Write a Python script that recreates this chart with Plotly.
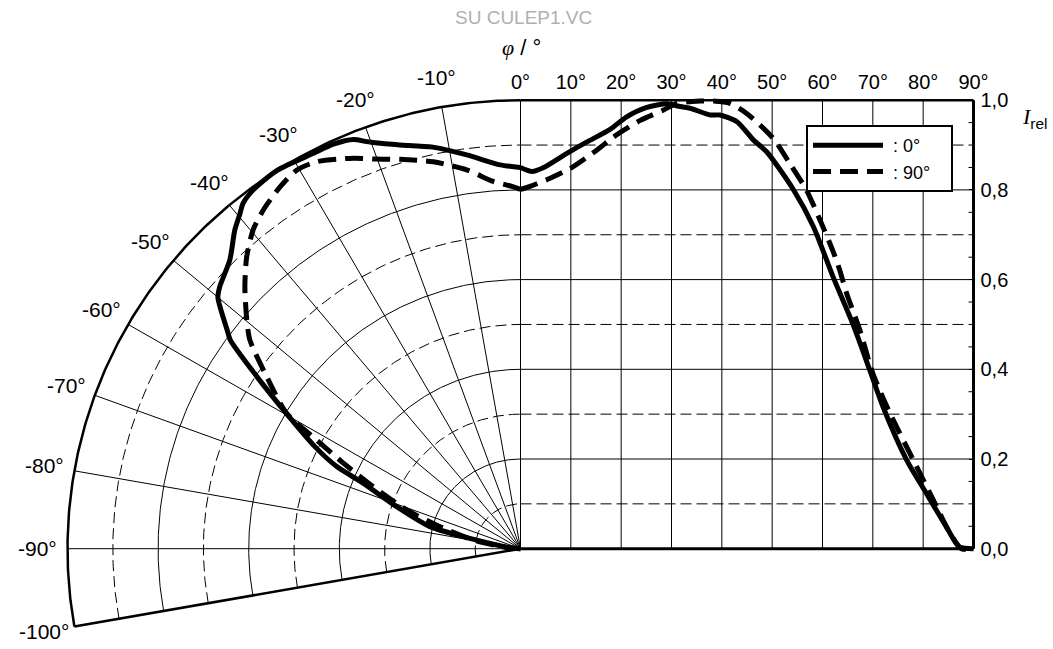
import numpy as np
import plotly.graph_objects as go

# ---- values ----
# polar half: gamma in degrees (negative = left of nadir), relative intensity
solid_left_gamma = [-90, -86, -81, -78, -76.2, -71.1, -67.2, -65.7, -63.4, -59.4, -56.6, -54.0,
                    -53.0, -50.0, -48.7, -44.9, -41.6, -39.6, -38.5, -36.4, -32.5, -27.4, -24.6,
                    -22.0, -20.5, -18.6, -16.5, -12.2, -7.7, -3.0, 0]
solid_left_irel = [0.0, 0.02, 0.053, 0.129, 0.206, 0.289, 0.376, 0.445, 0.507, 0.608, 0.697, 0.792,
                   0.811, 0.872, 0.884, 0.909, 0.950, 0.971, 0.984, 0.994, 1.0, 0.993, 0.992,
                   0.984, 0.969, 0.953, 0.939, 0.916, 0.886, 0.857, 0.850]

dash_left_gamma = [-90, -85, -79.5, -74.6, -71.0, -67.0, -64.0, -61.7, -59.7, -55.6, -52.1, -49.8,
                   -46.2, -42.9, -39.7, -36.9, -33.3, -30.3, -27.5, -23.0, -20.1, -17.0, -12.6,
                   -8.0, -4.2, -1.1, 0]
dash_left_irel = [0.0, 0.03, 0.106, 0.184, 0.266, 0.353, 0.435, 0.511, 0.598, 0.679, 0.757, 0.791,
                  0.843, 0.888, 0.924, 0.945, 0.966, 0.978, 0.973, 0.946, 0.925, 0.908, 0.884,
                  0.853, 0.821, 0.807, 0.801]

# cartesian half: gamma 0..90 degrees
solid_right_gamma = [0, 2.3, 4.6, 9.3, 13.2, 17.8, 21.1, 25.1, 29.1, 31.1, 33.7, 37.7, 39.6, 43.0,
                     46.3, 48.9, 54.2, 58.2, 62.1, 66.1, 69.4, 72.0, 76.7, 80.6, 84.6, 87.2, 90]
solid_right_irel = [0.850, 0.841, 0.850, 0.882, 0.907, 0.935, 0.963, 0.984, 0.992, 0.987, 0.982,
                    0.967, 0.967, 0.952, 0.911, 0.885, 0.801, 0.718, 0.606, 0.499, 0.398, 0.317,
                    0.198, 0.124, 0.049, 0.004, 0.0]

dash_right_gamma = [0, 1.9, 5.9, 9.9, 15.2, 18.5, 23.8, 28.4, 31.1, 35.7, 38.3, 41.6, 45.0, 50.2,
                    53.5, 56.8, 59.5, 62.1, 63.4, 64.8, 67.4, 70.0, 73.4, 78.7, 82.0, 85.3, 87.6, 90]
dash_right_irel = [0.801, 0.808, 0.826, 0.848, 0.889, 0.918, 0.955, 0.978, 0.993, 0.998, 0.998,
                   0.993, 0.970, 0.915, 0.859, 0.800, 0.733, 0.663, 0.622, 0.569, 0.488, 0.391,
                   0.302, 0.183, 0.109, 0.035, 0.0, 0.0]

polar_ticks = [-100, -90, -80, -70, -60, -50, -40, -30, -20, -10]
right_ticks = [0, 10, 20, 30, 40, 50, 60, 70, 80, 90]
irel_ticks = [0.0, 0.2, 0.4, 0.6, 0.8, 1.0]
irel_minor = [0.05, 0.15, 0.25, 0.35, 0.45, 0.55, 0.65, 0.75, 0.85, 0.95]
rings = [0.1, 0.2, 0.3, 0.4, 0.5, 0.6, 0.7, 0.8, 0.9, 1.0]

# ---- page geometry ----
W, H = 1053, 649
X0, Y0 = 520.5, 548.7      # pixel position of the origin
SX, SY = 453.0, 448.5      # pixels per unit of I_rel
GRID_DASH = "11px,5px"
CURVE_DASH = "18px,9px"


def polar_xy(gamma, r):
    g = np.radians(np.asarray(gamma, dtype=float))
    r = np.asarray(r, dtype=float)
    return r * np.sin(g), r * np.cos(g)


fig = go.Figure()


def add_line(x, y, width=1, dash="solid", xaxis="x"):
    fig.add_trace(go.Scatter(x=x, y=y, mode="lines", xaxis=xaxis, yaxis="y",
                             line=dict(color="black", width=width, dash=dash),
                             hoverinfo="skip", showlegend=False))


# polar grid: rings and spokes
arc = np.linspace(-100, 0, 241)
for r in rings:
    ax, ay = polar_xy(arc, np.full(arc.size, r))
    k = int(round(r * 10))
    if k == 10:
        add_line(ax, ay, width=2.5)
    else:
        add_line(ax, ay, width=1, dash=GRID_DASH if k % 2 else "solid")
for g in polar_ticks + [0]:
    sx, sy = polar_xy([g, g], [0, 1])
    add_line(sx, sy, width=2.5 if g == -100 else 1)

# cartesian grid on the right half
for r in rings[:-1]:
    k = int(round(r * 10))
    add_line([0, 90], [r, r], width=1, dash=GRID_DASH if k % 2 else "solid", xaxis="x2")
for g in right_ticks[1:-1]:
    add_line([g, g], [0, 1], width=1, xaxis="x2")
add_line([0, 90], [1, 1], width=2.5, xaxis="x2")
add_line([0, 90], [0, 0], width=3, xaxis="x2")
add_line([90, 90], [0, 1], width=3, xaxis="x2")
# small inward ticks on the right border
tick_deg = 5.0 / SX * 90
tx, ty = [], []
for v in irel_minor:
    tx += [90 - tick_deg, 90, None]
    ty += [v, v, None]
add_line(tx, ty, width=1, xaxis="x2")

# curves
for name, lg, lr, rg, rr, dash in [(": 0°", solid_left_gamma, solid_left_irel,
                                     solid_right_gamma, solid_right_irel, "solid"),
                                    (": 90°", dash_left_gamma, dash_left_irel,
                                     dash_right_gamma, dash_right_irel, CURVE_DASH)]:
    cx, cy = polar_xy(lg, lr)
    fig.add_trace(go.Scatter(x=cx, y=cy, mode="lines", xaxis="x", yaxis="y",
                             line=dict(color="black", width=5, dash=dash,
                                       shape="spline", smoothing=0.7),
                             legendgroup=name, showlegend=False, hoverinfo="skip"))
    fig.add_trace(go.Scatter(x=rg, y=rr, mode="lines", xaxis="x2", yaxis="y",
                             line=dict(color="black", width=5, dash=dash,
                                       shape="spline", smoothing=0.7),
                             name="\u00a0" + name + "\u00a0\u00a0\u00a0",
                             legendgroup=name, hoverinfo="skip"))

# angle labels around the polar half
for g in polar_ticks:
    lx, ly = polar_xy(g, 1.067)
    fig.add_annotation(x=float(lx), y=float(ly), xref="x", yref="y", text=f"{g}°",
                       showarrow=False, xanchor="center", yanchor="middle",
                       font=dict(size=21))

xr = [-X0 / SX, (W - X0) / SX]
yr = [-(H - Y0) / SY, Y0 / SY]

fig.update_layout(
    width=W, height=H, margin=dict(l=0, r=0, t=0, b=0),
    paper_bgcolor="white", plot_bgcolor="white", hovermode=False,
    font=dict(family="Liberation Sans, Arial, sans-serif", size=20, color="black"),
    xaxis=dict(range=xr, visible=False, fixedrange=True),
    xaxis2=dict(range=[v * 90 for v in xr], overlaying="x", side="top", anchor="free",
                position=1 - (Y0 - SY) / H, tickvals=right_ticks,
                ticktext=[f"{g}°" for g in right_ticks], showgrid=False, zeroline=False,
                showline=False, ticks="", ticklabelstandoff=7, automargin=False,
                tickfont=dict(size=20), fixedrange=True),
    yaxis=dict(range=yr, side="right", anchor="free", position=(X0 + SX) / W,
               tickvals=irel_ticks,
               ticktext=[f"{v:.1f}".replace(".", ",") for v in irel_ticks],
               showgrid=False, zeroline=False, showline=False, ticks="inside", ticklen=5,
               tickwidth=1, tickcolor="black", ticklabelstandoff=6, automargin=False,
               tickfont=dict(size=20), fixedrange=True),
    legend=dict(x=806 / W, y=1 - 125 / H, xanchor="left", yanchor="top", bgcolor="white",
                bordercolor="black", borderwidth=2, font=dict(size=18), itemwidth=70,
                tracegroupgap=0),
)

fig.add_annotation(x=523 / W, y=1 - 18 / H, xref="paper", yref="paper", text="SU CULEP1.VC",
                   showarrow=False, xanchor="center", yanchor="middle",
                   font=dict(size=19, color="#b0b0b0"))
fig.add_annotation(x=521 / W, y=1 - 47 / H, xref="paper", yref="paper",
                   text='<span style="font-family:Liberation Serif"><i>φ</i></span> / °',
                   showarrow=False, xanchor="center", yanchor="middle", font=dict(size=22))
fig.add_annotation(x=1020 / W, y=1 - 118 / H, xref="paper", yref="paper", xanchor="left",
                   yanchor="middle",
                   text='<span style="font-family:Liberation Serif"><i>I</i></span><sub>rel</sub>',
                   showarrow=False, font=dict(size=22))

fig.write_html("out.html", config={"displayModeBar": False},
               post_script="document.body.style.margin='0px';")
